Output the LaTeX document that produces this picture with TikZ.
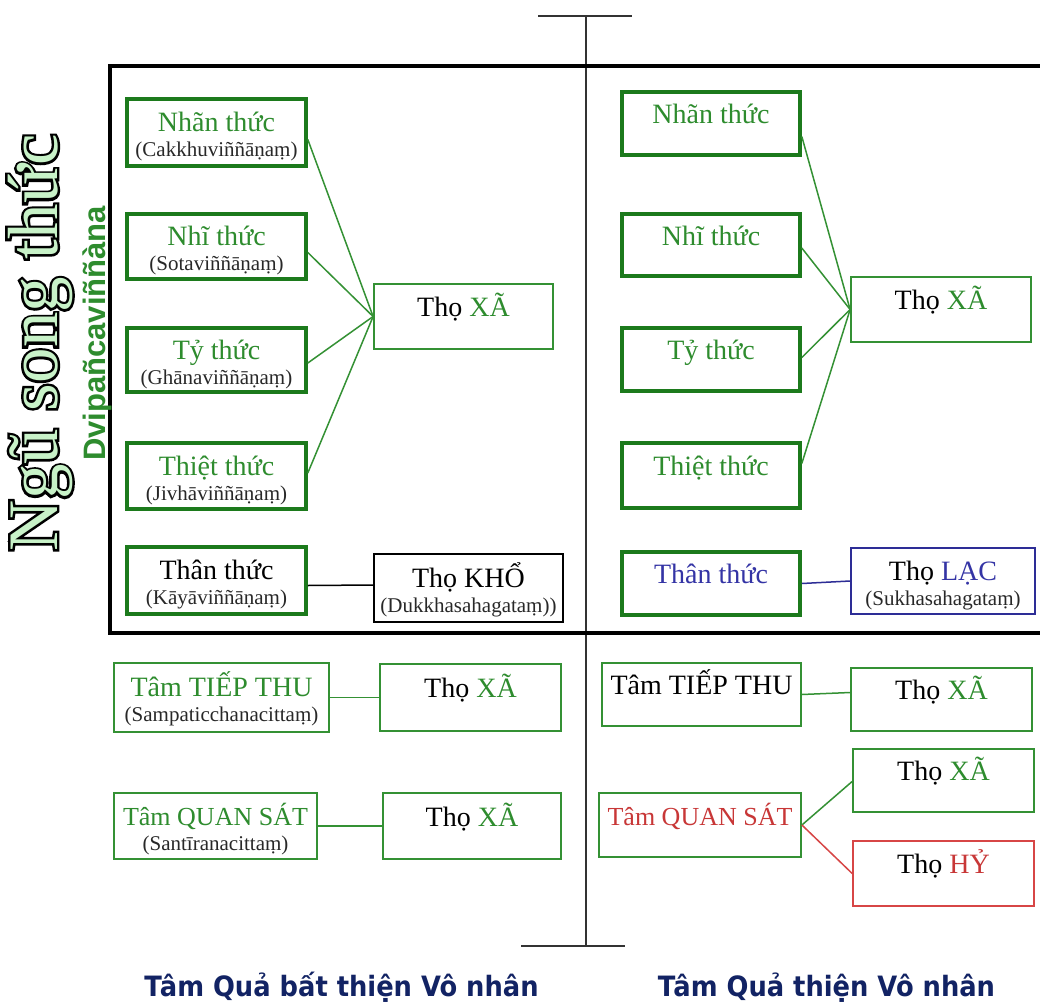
\documentclass[tikz,border=0pt]{standalone}
\usepackage{fontspec}
\setmainfont{Liberation Serif}
\newfontfamily\outlinefont[FakeBold=7]{Liberation Serif}
\newfontfamily\plainserif{Liberation Serif}
\newfontfamily\tagfont{Liberation Sans}
\newfontfamily\capfont{DejaVu Sans}

\definecolor{gtext}{RGB}{46,140,46}
\definecolor{gline}{RGB}{28,122,28}
\definecolor{gthin}{RGB}{52,145,52}
\definecolor{btext}{RGB}{52,52,165}
\definecolor{bline}{RGB}{45,45,150}
\definecolor{rtext}{RGB}{200,55,55}
\definecolor{rline}{RGB}{215,70,70}
\definecolor{navy}{RGB}{18,35,100}
\definecolor{mint}{RGB}{200,242,200}
\definecolor{subgray}{RGB}{40,40,40}

% second, smaller line of a box
\newcommand\subtxt[1]{{\fontsize{21}{23}\selectfont\color{subgray}#1}}
\newcommand\gr[1]{{\color{gtext}#1}}
% slightly smaller heading for the wide capital labels
\newcommand\narrow[1]{{\fontsize{26}{25}\selectfont#1}}
% invisible strut that lowers a two-line block inside its box
\newcommand\tallstrut{\rule{0pt}{28pt}}

\tikzset{
  box/.style={rectangle, inner sep=0pt, align=center,
    font=\fontsize{28}{25}\selectfont},
  gbold/.style={box, draw=gline, line width=3.6pt},
  gslim/.style={box, draw=gthin, line width=1.8pt},
  kslim/.style={box, draw=black, line width=1.6pt},
  bslim/.style={box, draw=bline, line width=1.6pt},
  rslim/.style={box, draw=rline, line width=1.6pt},
  oneline/.style={text height=12pt, text depth=12pt},
  wh/.style 2 args={minimum width=#1pt, minimum height=#2pt},
  glink/.style={draw=gthin, line width=1.5pt},
  klink/.style={draw=black, line width=1.5pt},
  blink/.style={draw=bline, line width=1.5pt},
  rlink/.style={draw=rline, line width=1.5pt},
  caption/.style={anchor=base, inner sep=0pt, text=navy,
    font=\capfont\bfseries\fontsize{28}{30}\selectfont},
}

\begin{document}
\begin{tikzpicture}[x=1pt,y=-1pt]
\useasboundingbox (0,0) rectangle (1040,1003);
\fill[white] (0,0) rectangle (1040,1003);

% central divider with end bars
\draw[line width=2pt, black!80] (538,16) -- (632,16);
\draw[line width=2pt, black!80] (586,16) -- (586,946);
\draw[line width=2pt, black!80] (521,946) -- (625,946);

% frame around the five sense consciousnesses
\draw[line width=4pt, black] (1040,66) -| (110,633) -- (1040,633);

% side titles
\node[anchor=base, inner sep=0pt, rotate=90] (title) at (57,342.5)
  {\fontsize{71}{71}\selectfont{\outlinefont\color{black}\rlap{Ngũ song thức}}{\plainserif\color{mint}Ngũ song thức}};
\node[anchor=base, inner sep=0pt, rotate=90, text=gtext] (pali) at (105,333.5)
  {\tagfont\bfseries\fontsize{31}{31}\selectfont Dvipañcaviññàna};

% left half: unwholesome resultants
\node[gbold, wh={179}{67}] (lN)  at (216.5,132.5) {\tallstrut\gr{Nhãn thức}\\\subtxt{(Cakkhuviññāṇaṃ)}};
\node[gbold, wh={179}{65}] (lNh) at (216.5,246.5) {\tallstrut\gr{Nhĩ thức}\\\subtxt{(Sotaviññāṇaṃ)}};
\node[gbold, wh={179}{64}] (lT)  at (216.5,360)   {\tallstrut\gr{Tỷ thức}\\\subtxt{(Ghānaviññāṇaṃ)}};
\node[gbold, wh={179}{66}] (lTh) at (216.5,476)   {\tallstrut\gr{Thiệt thức}\\\subtxt{(Jivhāviññāṇaṃ)}};
\node[gbold, wh={179}{67}] (lTn) at (216.5,580.5) {\tallstrut Thân thức\\\subtxt{(Kāyāviññāṇaṃ)}};
\node[gslim, oneline, wh={179}{65}] (lX) at (463.5,316.5) {Thọ \gr{XÃ}};
\node[kslim, wh={189}{68}] (lK) at (468.5,588) {\tallstrut Thọ KHỔ\\\subtxt{(Dukkhasahagataṃ))}};

\draw[glink] ([yshift=-7pt]lN.east) -- (lX.west);
\draw[glink] ([yshift=-6pt]lNh.east) -- (lX.west);
\draw[glink] ([yshift=-3pt]lT.east) -- (lX.west);
\draw[glink] ([yshift=3pt]lTh.east) -- (lX.west);
\draw[klink] ([yshift=-5pt]lTn.east) -- ([yshift=3pt]lK.west);

% right half: wholesome resultants
\node[gbold, oneline, wh={178}{63}] (rN)  at (711,123.5) {\gr{Nhãn thức}};
\node[gbold, oneline, wh={178}{62}] (rNh) at (711,245)   {\gr{Nhĩ thức}};
\node[gbold, oneline, wh={178}{63}] (rT)  at (711,359.5) {\gr{Tỷ thức}};
\node[gbold, oneline, wh={178}{65}] (rTh) at (711,475.5) {\gr{Thiệt thức}};
\node[gbold, oneline, wh={178}{63}] (rTn) at (711,583.5) {{\color{btext}Thân thức}};
\node[gslim, oneline, wh={180}{65}] (rX) at (941,309.5) {Thọ \gr{XÃ}};
\node[bslim, wh={184}{66}] (rL) at (943,581) {\tallstrut Thọ {\color{btext}LẠC}\\\subtxt{(Sukhasahagataṃ)}};

\draw[glink] ([yshift=-13pt]rN.east) -- (rX.west);
\draw[glink] ([yshift=-3pt]rNh.east) -- (rX.west);
\draw[glink] ([yshift=2pt]rT.east) -- (rX.west);
\draw[glink] ([yshift=12pt]rTh.east) -- (rX.west);
\draw[blink] (rTn.east) -- (rL.west);

% below the frame, left
\node[gslim, wh={215}{69}] (bT)  at (221.5,697.5) {\tallstrut\gr{Tâm TIẾP THU}\\\subtxt{(Sampaticchanacittaṃ)}};
\node[gslim, oneline, wh={181}{67}] (bTX) at (470.5,697.5) {Thọ \gr{XÃ}};
\node[gslim, wh={203}{66}] (bQ)  at (215.5,826) {\tallstrut\narrow{\gr{Tâm QUAN SÁT}}\\\subtxt{(Santīranacittaṃ)}};
\node[gslim, oneline, wh={178}{66}] (bQX) at (472,826) {Thọ \gr{XÃ}};
\draw[glink] (bT.east) -- (bTX.west);
\draw[glink] (bQ.east) -- (bQX.west);

% below the frame, right
\node[gslim, oneline, wh={199}{63}] (cT)  at (701.5,694.5) {Tâm TIẾP THU};
\node[gslim, oneline, wh={181}{63}] (cTX) at (941.5,699.5) {Thọ \gr{XÃ}};
\node[gslim, oneline, wh={181}{63}] (cX)  at (943.5,780.5) {Thọ \gr{XÃ}};
\node[gslim, oneline, wh={202}{64}] (cQ)  at (700,825) {\narrow{\color{rtext}Tâm QUAN SÁT}};
\node[rslim, oneline, wh={181}{65}] (cH)  at (943.5,873.5) {Thọ {\color{rtext}HỶ}};
\draw[glink] (cT.east) -- ([yshift=7pt]cTX.west);
\draw[glink] (cQ.east) -- ([yshift=-1pt]cX.west);
\draw[rlink] (cQ.east) -- (cH.west);

% captions
\node[caption] (capL) at (341.5,996) {\scalebox{0.92}[1]{Tâm Quả bất thiện Vô nhân}};
\node[caption] (capR) at (826.5,996) {\scalebox{0.92}[1]{Tâm Quả thiện Vô nhân}};
\end{tikzpicture}
\end{document}
